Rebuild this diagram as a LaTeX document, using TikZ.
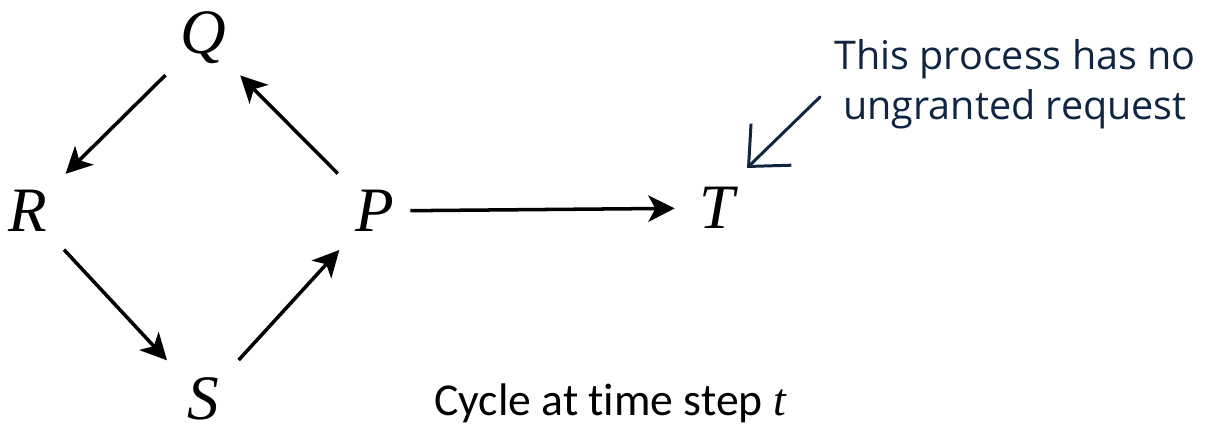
\documentclass[tikz,border=0pt]{standalone}
\usepackage{fontspec}
\setsansfont{Carlito}[Ligatures=NoCommon]
\newfontfamily\notefont{Open Sans}
\newfontfamily\letterfont{Liberation Serif}
\usetikzlibrary{arrows.meta, positioning}
\definecolor{notecol}{RGB}{16,37,66}
\newcommand{\pname}[1]{{\letterfont\itshape #1}}

\begin{document}
\begin{tikzpicture}[
                        x=0.02cm, y=-0.02cm,
                        >=Stealth,
                        proc/.style={
                                circle, minimum size=2.1cm, inner sep=0pt,
                                font=\letterfont\itshape\fontsize{36}{40}\selectfont
                            },
                        edge/.style={
                                -{Stealth[length=15pt, width=15pt, inset=4pt]},
                                line width=2pt
                            },
                        note/.style={
                                font=\notefont\fontsize{22.5}{28.5}\selectfont,
                                text=notecol, align=center
                            },
                        hand/.style={
                                -{Straight Barb[length=18pt, width=33pt, line width=1.7pt]},
                                line width=1.7pt, draw=notecol, line cap=round
                            }
                    ]

                    \useasboundingbox (0,0) rectangle (1210,432);

                    % ===== Processes =====
                    \node[proc] (Q) at (203,38) {Q};
                    \node[proc] (R) at (28,211) {R};
                    \node[proc] (P) at (375,211) {P};
                    \node[proc] (S) at (203,399) {S};
                    \node[proc] (T) at (717,208) {T};

                    % ===== Caption =====
                    \node[font=\sffamily\fontsize{26}{32}\selectfont] (caption) at (610,403)
                    {Cycle at time step \pname{t}};

                    % ===== Note =====
                    \node[note] (note) at (1015,84) {This process has no\\ungranted request};
                    \coordinate (tailpt) at (820,97);
                    \coordinate (tippt) at (747,168);

                    % ===== Arrows =====
                    % the cycle
                    \draw[edge] (Q) -- (R);
                    \draw[edge] (R) -- (S);
                    \draw[edge] (S) -- (P);
                    \draw[edge] (P) -- (Q);

                    % P waits on T
                    \draw[edge, shorten <=-10pt, shorten >=-6pt] (P) -- (T);

                    % note pointer
                    \draw[hand] (tailpt) -- (tippt);

                \end{tikzpicture}
\end{document}
